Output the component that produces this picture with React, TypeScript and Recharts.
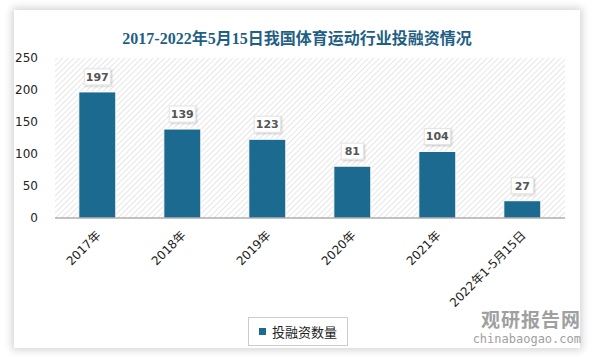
import React from "react";
import {
  Bar,
  BarChart,
  CartesianGrid,
  LabelList,
  Legend,
  XAxis,
  YAxis,
} from "recharts";

const categories = ["2017年", "2018年", "2019年", "2020年", "2021年", "2022年1-5月15日"];
const investCounts = [197, 139, 123, 81, 104, 27];
const yTicks = [0, 50, 100, 150, 200, 250];

const data = categories.map((name, i) => ({ name, value: investCounts[i] }));

const BAR_COLOR = "#1c6a8f";
const TICK_FONT = "Tahoma, 'DejaVu Sans', 'Noto Sans CJK SC', sans-serif";

function ValueLabel(props: any) {
  const { x, y, width, value } = props;
  const cx = x + width / 2;
  const w = String(value).length > 2 ? 26 : 22;
  const h = 16;
  const top = y - 7 - h;
  return (
    <g>
      <rect
        x={cx - w / 2}
        y={top}
        width={w}
        height={h}
        fill="#fff"
        stroke="#e4e4e4"
        filter="url(#lblShadow)"
      />
      <text
        x={cx}
        y={top + h / 2 + 4}
        textAnchor="middle"
        fontSize={11}
        fontWeight="bold"
        fill="#555"
        fontFamily={TICK_FONT}
      >
        {value}
      </text>
    </g>
  );
}

function XTick(props: any) {
  const { x, y, payload } = props;
  return (
    <text
      x={x + 4}
      y={y + 10}
      textAnchor="end"
      fontSize={12}
      fill="#222"
      fontFamily={TICK_FONT}
      transform={`rotate(-45, ${x + 4}, ${y + 10})`}
    >
      {payload.value}
    </text>
  );
}

function LegendBox() {
  return (
    <div
      style={{
        display: "inline-flex",
        alignItems: "center",
        border: "1px solid #ccc",
        padding: "4px 10px",
        fontSize: 13,
        color: "#222",
        fontFamily: "'Noto Sans CJK SC', sans-serif",
        background: "#fff",
      }}
    >
      <span
        style={{
          display: "inline-block",
          width: 7,
          height: 7,
          background: BAR_COLOR,
          marginRight: 6,
        }}
      />
      投融资数量
    </div>
  );
}

export default function App() {
  return (
    <div
      style={{
        position: "absolute",
        left: 0,
        top: 0,
        width: 593,
        height: 357,
        background: "#fff",
        overflow: "hidden",
      }}
    >
      <div
        style={{
          position: "absolute",
          left: 14,
          top: 10,
          width: 566,
          height: 338,
          background: "#fff",
          boxShadow: "0 0 8px 2px rgba(0,0,0,0.18)",
        }}
      >
        <div
          style={{
            position: "absolute",
            left: 0,
            top: 15,
            width: 566,
            textAlign: "center",
            fontSize: 16,
            fontWeight: "bold",
            color: "#1f5f86",
            fontFamily: "'Liberation Serif', 'Noto Sans CJK SC', serif",
          }}
        >
          2017-2022年5月15日我国体育运动行业投融资情况
        </div>
        <div
          style={{
            position: "absolute",
            left: 455,
            top: 295,
            width: 112,
            textAlign: "right",
            fontSize: 19,
            fontWeight: "bold",
            letterSpacing: 1,
            color: "#a0a0a0",
            fontFamily: "'Noto Sans CJK SC', sans-serif",
          }}
        >
          观研报告网
        </div>
        <div
          style={{
            position: "absolute",
            left: 455,
            top: 323,
            width: 112,
            textAlign: "right",
            fontSize: 12,
            lineHeight: "13px",
            color: "#a0a0a0",
            fontFamily: "'DejaVu Sans Mono', monospace",
          }}
        >
          chinabaogao.com
        </div>
        <BarChart
          width={566}
          height={338}
          data={data}
          margin={{ top: 48, right: 15, left: 0, bottom: 0 }}
          barCategoryGap="28%"
          style={{ position: "absolute", left: 0, top: 0 }}
        >
          <defs>
            <pattern
              id="hatch"
              width="4"
              height="4"
              patternUnits="userSpaceOnUse"
              patternTransform="rotate(45)"
            >
              <rect width="4" height="4" fill="#fff" />
              <line x1="0" y1="0" x2="0" y2="4" stroke="#d6d6d6" strokeWidth="1.2" />
            </pattern>
            <filter id="lblShadow" x="-30%" y="-30%" width="160%" height="160%">
              <feDropShadow dx="1" dy="1" stdDeviation="1" floodColor="#000" floodOpacity="0.2" />
            </filter>
          </defs>
          <CartesianGrid fill="url(#hatch)" stroke="none" horizontal={false} vertical={false} />
          <XAxis
            dataKey="name"
            interval={0}
            tickLine={false}
            axisLine={{ stroke: "#888" }}
            tick={<XTick />}
            height={104}
          />
          <YAxis
            width={41}
            domain={[0, 250]}
            ticks={yTicks}
            tickLine={false}
            axisLine={false}
            tickMargin={11}
            tick={{ fontSize: 12, fill: "#222", fontFamily: TICK_FONT }}
          />
          <Legend
            content={<LegendBox />}
            wrapperStyle={{ position: "absolute", left: 234, top: 307, width: 110, height: 26 }}
          />
          <Bar
            dataKey="value"
            fill={BAR_COLOR}
            stroke="#fff"
            strokeWidth={1}
            isAnimationActive={false}
          >
            <LabelList dataKey="value" content={<ValueLabel />} />
          </Bar>
        </BarChart>
      </div>
    </div>
  );
}
